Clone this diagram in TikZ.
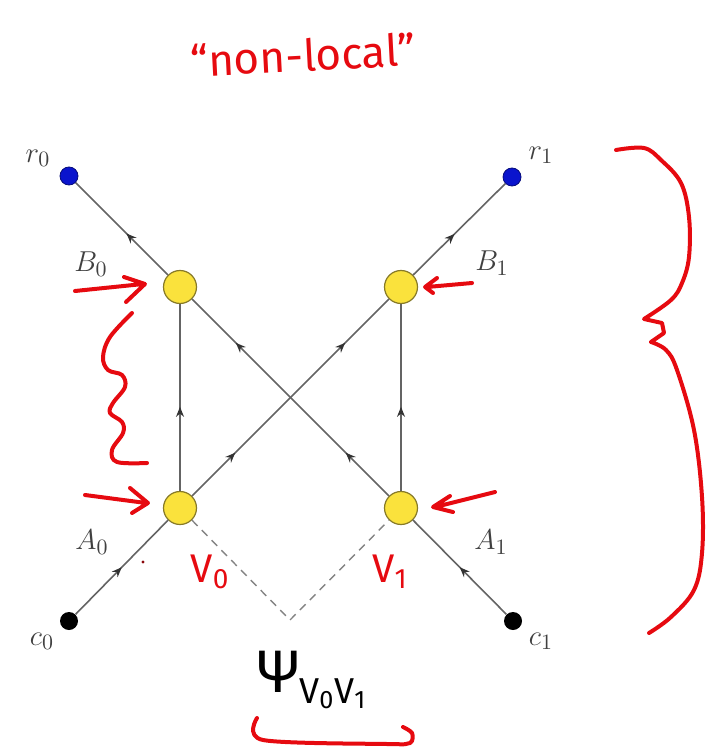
\documentclass[tikz,border=0pt]{standalone}
\usepackage{fontspec}
\usepackage{tikz}
\usetikzlibrary{arrows.meta, positioning, decorations.markings}
\newfontfamily\handfont{Fira Sans}
\definecolor{inkred}{RGB}{230,10,16}
\definecolor{wire}{RGB}{100,100,100}
\definecolor{gatefill}{RGB}{250,226,60}
\definecolor{gateline}{RGB}{135,122,40}
\definecolor{outblue}{RGB}{10,20,205}

\begin{document}
\begin{tikzpicture}[x=0.5pt, y=-0.5pt,
  gate/.style={draw=gateline, fill=gatefill, circle, minimum size=16.5pt, inner sep=0pt, line width=0.6pt},
  src/.style={fill=black, circle, minimum size=9pt, inner sep=0pt},
  sink/.style={draw=outblue!60!black, fill=outblue, circle, minimum size=9pt, inner sep=0pt, line width=0.4pt},
  lbl/.style={text=black!75, font=\fontsize{15.5}{17}\selectfont, inner sep=0pt},
  edge/.style={draw=wire, line width=0.8pt},
  tipat/.style={postaction={decorate}, decoration={markings,
      mark=at position #1 with {\arrow[black!80]{Stealth[length=5pt, width=4pt]}}}},
  twotips/.style={postaction={decorate}, decoration={markings,
      mark=at position 0.22 with {\arrow[black!80]{Stealth[length=5pt, width=4pt]}},
      mark=at position 0.78 with {\arrow[black!80]{Stealth[length=5pt, width=4pt]}}}},
  dashline/.style={draw=wire!80, line width=0.7pt, dash pattern=on 4pt off 3pt},
  ink/.style={draw=inkred, line width=2pt, line cap=round, line join=round},
  inktext/.style={text=inkred, font=\handfont, inner sep=0pt}
]
\useasboundingbox (0,0) rectangle (714,754);

\node[src] (c0) at (69,621) {};
\node[src] (c1) at (513,621) {};
\node[gate] (A0) at (180,508) {};
\node[gate] (A1) at (401,508) {};
\node[gate] (B0) at (180,287) {};
\node[gate] (B1) at (401,287) {};
\node[sink] (r0) at (69,176) {};
\node[sink] (r1) at (512,177) {};
\coordinate (apex) at (290,620);

\node[lbl] (lr0) at (38,158) {$r_0$};
\node[lbl] (lr1) at (541,155) {$r_1$};
\node[lbl] (lB0) at (91,264) {$B_0$};
\node[lbl] (lB1) at (492,263) {$B_1$};
\node[lbl] (lA0) at (92,542) {$A_0$};
\node[lbl] (lA1) at (491,542) {$A_1$};
\node[lbl] (lc0) at (42,641) {$c_0$};
\node[lbl] (lc1) at (541,641) {$c_1$};

\draw[edge, tipat=0.5] (c0) -- (A0);
\draw[edge, tipat=0.5] (c1) -- (A1);
\draw[edge, tipat=0.45] (A0) -- (B0);
\draw[edge, tipat=0.45] (A1) -- (B1);
\draw[edge, twotips] (A0) -- (B1);
\draw[edge, twotips] (A1) -- (B0);
\draw[edge, tipat=0.45] (B0) -- (r0);
\draw[edge, tipat=0.45] (B1) -- (r1);
\draw[dashline] (A0) -- (apex) -- (A1);

\node[inktext, rotate=3] (title) at (303,55) {\fontsize{22}{24}\selectfont “non-local”};
\node[inktext] (v0lbl) at (210,572) {\fontsize{20}{22}\selectfont V\textsubscript{0}};
\node[inktext] (v1lbl) at (390,572) {\fontsize{20}{22}\selectfont V\textsubscript{1}};
\node[inner sep=0pt, font=\handfont] (psilbl) at (278,672) {\fontsize{30}{32}\selectfont Ψ};
\node[inner sep=0pt, font=\handfont, anchor=base west] (psisub) at (299,703) {\fontsize{18}{20}\selectfont V\textsubscript{0}V\textsubscript{1}};

\draw[ink] (75,291) -- (143,284) (124,277) -- (145,284) -- (126,302);
\draw[ink] (472,283) -- (427,287) (437,278) -- (425,287) -- (433,293);
\draw[ink] (85,495) -- (146,503) (130,488) -- (148,503) -- (132,513);
\draw[ink] (495,492) -- (435,507) (450,496) -- (433,507) -- (453,512);
\draw[ink] plot[smooth, tension=0.6] coordinates {(132,313) (110,337) (103,357) (108,370) (122,375) (125,387) (113,403) (110,413) (122,422) (123,433) (112,450) (117,462) (147,463)};
\draw[ink] plot[smooth, tension=0.6] coordinates {(616,150) (644,148) (661,160) (681,183) (689,217) (689,257) (682,283) (671,300) (644,319)}
  -- (662,323) -- (664,333) -- (651,342)
  plot[smooth, tension=0.6] coordinates {(651,342) (666,350) (677,370) (694,430) (702,497) (702,553) (694,590) (671,617) (649,633)};
\draw[ink] plot[smooth, tension=0.5] coordinates {(257,718) (263,740) (387,744) (410,743) (412,733) (403,727)};
\fill[inkred!60!black] (143,562) circle (0.8pt);
\end{tikzpicture}
\end{document}
